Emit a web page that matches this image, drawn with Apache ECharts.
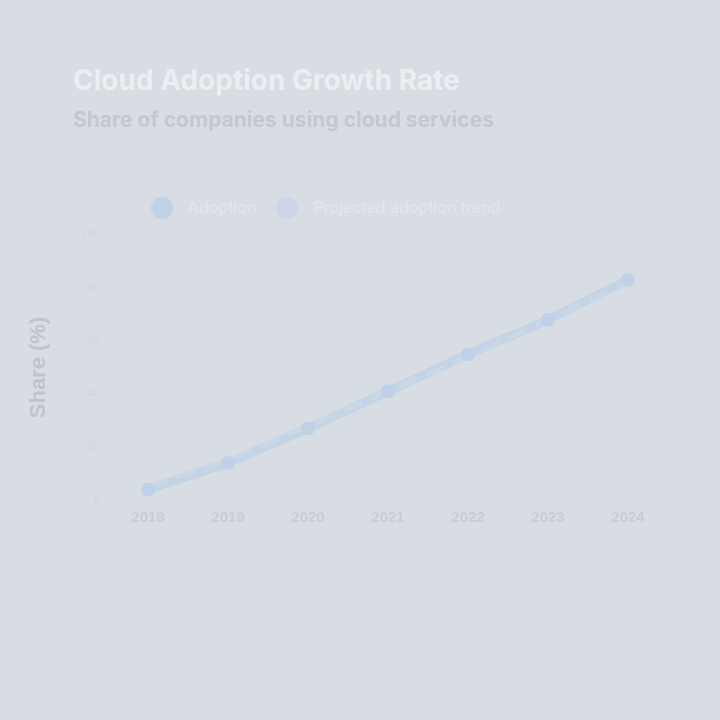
<!DOCTYPE html>
<html><head><meta charset="utf-8">
<script src="https://cdn.jsdelivr.net/npm/echarts@6/dist/echarts.min.js"></script>
<style>html,body{margin:0;padding:0;background:#d8dde4;}#c{width:720px;height:720px;}</style>
</head><body><div id="c"></div>
<script>
const categories = ['2018', '2019', '2020', '2021', '2022', '2023', '2024'];
const seriesNames = ['Adoption', 'Projected adoption trend'];
const adoption = [4, 14, 27, 41, 55, 68, 83];
const projected = [5, 15, 28, 41, 54, 68, 82];
const yTicks = [0, 20, 40, 60, 80, 100];

const chart = echarts.init(document.getElementById('c'), null, {renderer: 'canvas'});
chart.setOption({
  backgroundColor: '#d8dde4',
  title: {
    text: 'Cloud Adoption Growth Rate',
    subtext: 'Share of companies using cloud services',
    left: 68, top: 63,
    textStyle: {color: '#eceef1', fontSize: 28, fontWeight: 'bold', fontFamily: 'Inter'},
    subtextStyle: {color: '#c4c7cd', fontSize: 21, fontWeight: 'bold', fontFamily: 'Inter'},
    itemGap: 14
  },
  legend: {
    left: 146, top: 192, itemGap: 20,
    icon: 'circle', itemWidth: 22, itemHeight: 22,
    textStyle: {color: '#e3e6ea', fontSize: 16, fontFamily: 'Inter', padding: [0, 0, 0, 10]},
    data: [
      {name: seriesNames[0], itemStyle: {color: '#c0d2e6'}},
      {name: seriesNames[1], itemStyle: {color: '#cbd7e4'}}
    ]
  },
  grid: {left: 108, right: 52, top: 235, bottom: 220},
  xAxis: {
    type: 'category', data: categories, boundaryGap: true,
    axisLine: {lineStyle: {color: '#d3d8de'}},
    axisTick: {show: false},
    axisLabel: {color: '#c9cdd3', fontSize: 15, margin: 10, fontWeight: 'bold'}
  },
  yAxis: {
    type: 'value', min: yTicks[0], max: yTicks[yTicks.length - 1], interval: 20,
    name: 'Share (%)', nameLocation: 'middle', nameGap: 58,
    nameTextStyle: {color: '#c0c3c9', fontSize: 22, fontWeight: 'bold'},
    axisLine: {show: true, lineStyle: {color: '#d4d9df'}},
    axisLabel: {color: '#d0d4da', fontSize: 11},
    splitLine: {lineStyle: {color: '#d6dbe0'}}
  },
  series: [
    {
      name: seriesNames[0], type: 'line', data: adoption,
      symbol: 'circle', symbolSize: 14,
      lineStyle: {color: '#c3d4e7', width: 9},
      itemStyle: {color: '#bfd1e6'}
    },
    {
      name: seriesNames[1], type: 'line', data: projected,
      symbol: 'none',
      lineStyle: {color: '#cad8e6', width: 5, type: 'dashed'},
      itemStyle: {color: '#cbd7e4'}
    }
  ]
});
</script></body></html>
